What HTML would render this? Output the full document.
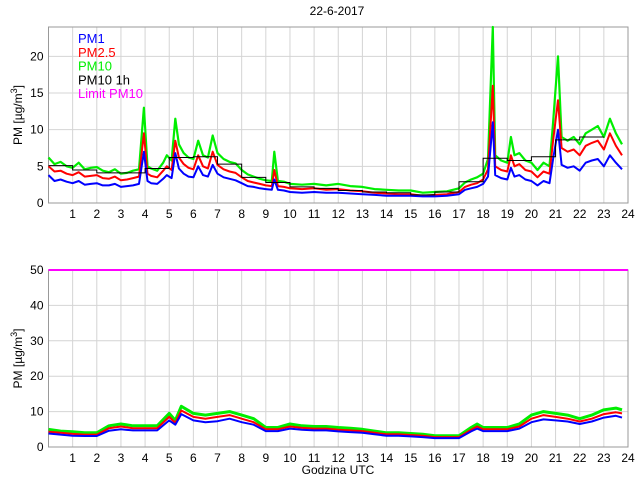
<!DOCTYPE html>
<html><head><meta charset="utf-8"><style>
body{margin:0;background:#fff}
svg{font-family:"Liberation Sans",sans-serif;font-size:12px}
</style></head><body>
<svg id="c" width="640" height="480" xmlns="http://www.w3.org/2000/svg">
<rect width="640" height="480" fill="#fff"/>
<text x="337" y="15" text-anchor="middle">22-6-2017</text>
</svg>
<script>
const hourTicks=[1,2,3,4,5,6,7,8,9,10,11,12,13,14,15,16,17,18,19,20,21,22,23,24];
const topYTicks=[0,5,10,15,20];
const botYTicks=[0,10,20,30,40,50];
const tTop=[0,.25,.5,.75,1,1.25,1.5,1.75,2,2.25,2.5,2.75,3,3.25,3.5,3.75,3.95,4.1,4.25,4.5,4.75,4.9,5.1,5.25,5.4,5.6,5.8,6,6.2,6.4,6.6,6.8,7,7.25,7.5,7.75,8,8.25,8.5,8.75,9,9.25,9.35,9.5,9.75,10,10.5,11,11.5,12,12.5,13,13.5,14,14.5,15,15.5,16,16.5,17,17.25,17.5,17.75,18,18.2,18.4,18.5,18.75,19,19.15,19.3,19.5,19.75,20,20.25,20.5,20.75,20.9,21.1,21.25,21.5,21.75,22,22.25,22.5,22.75,23,23.25,23.5,23.75];
const pm10Top=[6.2,5.3,5.6,5.0,4.8,5.5,4.6,4.8,4.9,4.4,4.2,4.6,4.0,4.1,4.4,4.6,13,5.0,4.7,4.4,5.5,6.5,5.8,11.5,8,6.8,6.2,6.0,8.5,6.5,6.2,9.2,6.8,6.0,5.6,5.4,4.5,3.9,3.6,3.3,3.1,3.0,7.0,3.0,2.9,2.6,2.5,2.6,2.4,2.6,2.3,2.2,1.9,1.8,1.7,1.7,1.4,1.5,1.6,2.0,2.8,3.2,3.5,4.0,6.0,24,6.5,5.8,5.5,9.0,6.5,6.8,5.8,5.5,4.5,5.5,5.0,11,20,9.0,8.5,9.0,8.0,9.5,10,10.5,9,11.5,9.5,8.0];
const pm25Top=[5.0,4.3,4.4,4.0,3.8,4.2,3.6,3.7,3.8,3.4,3.3,3.6,3.1,3.2,3.4,3.6,9.5,4.0,3.7,3.5,4.4,5.0,4.5,8.5,6.2,5.3,4.8,4.6,6.5,5.0,4.7,7.0,5.2,4.6,4.3,4.1,3.5,3.0,2.8,2.6,2.4,2.3,4.5,2.3,2.2,2.0,1.9,2.0,1.8,1.9,1.7,1.6,1.4,1.3,1.2,1.2,1.0,1.1,1.2,1.5,2.2,2.5,2.7,3.2,4.6,16,5.0,4.5,4.3,6.5,5.0,5.3,4.5,4.3,3.5,4.3,4.0,8.5,14,7.5,7.0,7.3,6.5,7.8,8.2,8.5,7.3,9.5,7.8,6.5];
const pm1Top=[3.8,3.0,3.2,2.9,2.7,3.0,2.5,2.6,2.7,2.4,2.4,2.6,2.2,2.3,2.4,2.6,7.0,3.0,2.7,2.6,3.3,3.8,3.4,6.8,4.7,4.0,3.6,3.5,5.0,3.8,3.6,5.2,4.0,3.5,3.3,3.1,2.7,2.3,2.2,2.0,1.9,1.8,3.2,1.8,1.7,1.5,1.4,1.5,1.4,1.4,1.3,1.2,1.1,1.0,1.0,1.0,0.9,0.9,1.0,1.2,1.8,2.0,2.2,2.6,3.6,11,3.8,3.4,3.2,4.8,3.6,3.8,3.2,3.0,2.4,3.0,2.7,6.0,10,5.2,4.8,5.0,4.4,5.5,5.8,6.0,5.0,6.5,5.5,4.6];
const pm10Hourly=[5.1,4.5,4.1,4.1,4.7,6.2,6.3,5.3,3.5,2.8,2.2,2.0,1.7,1.5,1.4,1.1,1.5,2.9,6.1,5.8,6.3,8.6,9.0];
const tBot=[0,.5,1,1.5,2,2.5,3,3.5,4,4.5,5,5.25,5.5,6,6.5,7,7.5,8,8.5,9,9.5,10,10.5,11,11.5,12,12.5,13,13.5,14,14.5,15,15.5,16,16.5,17,17.5,17.75,18,18.5,19,19.5,20,20.5,21,21.5,22,22.5,23,23.5,23.75];
const pm10Bot=[5,4.5,4.3,4.0,4.0,6.0,6.5,6.0,6.0,6.0,9.5,7.5,11.5,9.5,9.0,9.5,10,9,8,5.5,5.5,6.5,6.0,5.8,5.8,5.5,5.3,5.0,4.5,4.0,4.0,3.8,3.6,3.2,3.2,3.2,5.5,6.5,5.5,5.5,5.5,6.5,9,10,9.5,9,8,9,10.5,11,10.5];
const pm25Bot=[4.3,4,3.7,3.5,3.5,5.3,5.8,5.3,5.3,5.3,8.5,6.8,10.3,8.5,8,8.5,9,8,7,5,5,5.8,5.4,5.2,5.2,4.9,4.7,4.5,4,3.6,3.6,3.4,3.2,2.8,2.8,2.8,4.9,5.8,5,5,5,5.8,8,9,8.5,8,7.2,8,9.3,9.8,9.5];
const pm1Bot=[3.8,3.5,3.2,3.1,3.1,4.6,5,4.7,4.7,4.7,7.5,6.3,9.3,7.5,7,7.3,8,7,6.3,4.5,4.5,5.2,4.9,4.7,4.7,4.4,4.2,4,3.6,3.2,3.2,3,2.8,2.5,2.5,2.5,4.4,5.2,4.5,4.5,4.5,5.2,7,7.8,7.5,7.2,6.5,7.2,8.3,8.8,8.3];
const limitPM10=[50];
const legendLabels=["PM1","PM2.5","PM10","PM10 1h","Limit PM10"];
const legendColors=["#0000ff","#ff0000","#00ee00","#000000","#ff00ff"];

const NS="http://www.w3.org/2000/svg";
const svg=document.getElementById('c');
function mk(tag,attrs,parent){const e=document.createElementNS(NS,tag);for(const k in attrs)e.setAttribute(k,attrs[k]);(parent||svg).appendChild(e);return e;}
const X0=48.5,X1=628;
const xs=h=>X0+h/24*(X1-X0);
const panels=[{top:27,bot:203,max:24,yt:topYTicks,name:'top'},{top:270,bot:447,max:50,yt:botYTicks,name:'bottom'}];
panels.forEach(p=>{p.ys=v=>p.bot-v/p.max*(p.bot-p.top);});
function drawAxes(p){
  const g=mk('g',{});
  
  
  hourTicks.forEach(h=>{
    const l=mk('line',{x1:xs(h),x2:xs(h),y1:p.top,y2:p.bot,stroke:'#d4d4d4','stroke-width':1},g);
    
    
    const t=mk('text',{x:xs(h),y:p.bot+15,'text-anchor':'middle',fill:'#000'},g);
    
    
    t.textContent=h;
  });
  p.yt.forEach(v=>{
    const l=mk('line',{x1:X0,x2:X1,y1:p.ys(v),y2:p.ys(v),stroke:'#d4d4d4','stroke-width':1},g);
    
    
    const t=mk('text',{x:X0-5,y:p.ys(v)+4,'text-anchor':'end'},g);
    
    
    t.textContent=v;
  });
  const r=mk('rect',{x:X0,y:p.top,width:X1-X0,height:p.bot-p.top,fill:'none',stroke:'#999','stroke-width':1},g);
  
  
  const yl=mk('text',{x:0,y:0,'text-anchor':'middle',transform:`translate(22,${(p.top+p.bot)/2}) rotate(-90)`},g);
  
  
  yl.innerHTML='PM [µg/m<tspan dy="-5" font-size="9">3</tspan><tspan dy="5">]</tspan>';
}
function line(p,t,v,color,name,w){
  const d=t.slice(0,v.length).map((h,i)=>(i?'L':'M')+xs(h).toFixed(1)+','+p.ys(Math.min(v[i],p.max)).toFixed(1)).join('');
  const e=mk('path',{d:d,fill:'none',stroke:color,'stroke-width':w,'stroke-linejoin':'round'});
  
  
}
panels.forEach(drawAxes);
const P=panels[0],B=panels[1];
line(P,tTop,pm10Top,'#00ee00','pm10-top-line',2.2);
line(P,tTop,pm25Top,'#ff0000','pm25-top-line',2);
line(P,tTop,pm1Top,'#0000ff','pm1-top-line',2);
let sd='';
pm10Hourly.forEach((v,i)=>{sd+=(i?'L':'M')+xs(i)+','+P.ys(v)+'L'+xs(i+1)+','+P.ys(v);});
const st=mk('path',{d:sd,fill:'none',stroke:'#000','stroke-width':1});


line(B,tBot,pm10Bot,'#00ee00','pm10-bottom-line',3);
line(B,tBot,pm25Bot,'#ff0000','pm25-bottom-line',2);
line(B,tBot,pm1Bot,'#0000ff','pm1-bottom-line',2);
const lim=mk('line',{x1:X0,x2:X1,y1:B.ys(limitPM10[0]),y2:B.ys(limitPM10[0]),stroke:'#ff00ff','stroke-width':2});


legendLabels.forEach((s,i)=>{
  const t=mk('text',{x:78,y:43+i*13.8,fill:legendColors[i],'font-size':'13px'});
  
  
  t.textContent=s;
});
const xt=mk('text',{x:338,y:474,'text-anchor':'middle'});


xt.textContent='Godzina UTC';
</script>
</body></html>
